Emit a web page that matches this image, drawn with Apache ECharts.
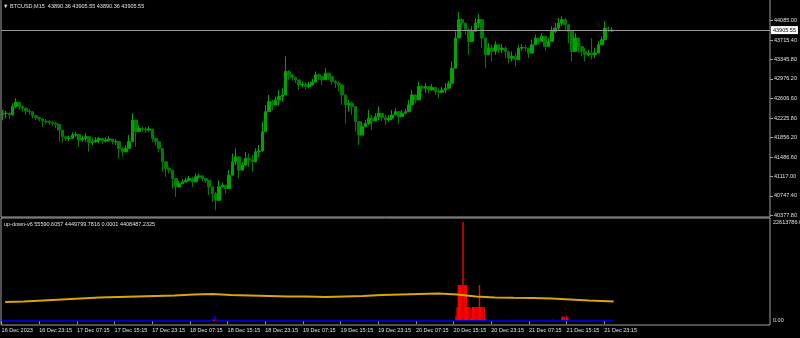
<!DOCTYPE html>
<html><head><meta charset="utf-8">
<script src="https://cdn.jsdelivr.net/npm/echarts@6/dist/echarts.min.js"></script>
<style>html,body{margin:0;padding:0;background:#000;}#c{width:800px;height:338px;}</style>
</head><body><div id="c"></div>
<script>
// ---- price candles (BTCUSD, resampled from the M15 picture) ----
const opens = [
42300,42320,42320,42289,42448,42531,42448,42416,42365,42352,
42276,42238,42212,42174,42161,42148,42129,42110,42002,41875,
41843,41843,41906,41919,41811,41843,41875,41766,41779,41811,
41843,41792,41811,41830,41779,41779,41652,41588,41652,41779,
42193,41970,42034,42021,42002,42021,41843,41779,41652,41397,
41269,41238,41078,40919,40983,41015,41046,41078,41015,41110,
41129,41078,41046,40919,40792,40664,40919,40951,40887,41142,
41397,41492,41238,41333,41460,41429,41397,41588,41601,41970,
42352,42543,42480,42575,42639,42671,43117,43053,43002,42957,
42862,42875,42830,42862,42913,43053,43021,42957,43085,43021,
42926,42894,42862,42671,42480,42512,42448,42161,41906,42066,
42129,42225,42174,42257,42320,42238,42193,42225,42289,42352,
42257,42320,42352,42480,42671,42575,42830,42798,42830,42766,
42811,42735,42722,42766,42798,42894,43180,43754,44104,44040,
43913,43690,43881,44040,44104,43754,43435,43563,43499,43626,
43531,43563,43499,43371,43403,43340,43563,43575,43563,43467,
43626,43754,43690,43786,43594,43690,43881,43945,44040,44104,
44009,43881,43499,43754,43594,43499,43435,43467,43435,43467,
43626,43722,43945,43890.36];
const closes = [
42320,42320,42289,42448,42531,42448,42416,42365,42352,42276,
42238,42212,42174,42161,42148,42129,42110,42002,41875,41843,
41843,41906,41919,41811,41843,41875,41766,41779,41811,41843,
41792,41811,41830,41779,41779,41652,41588,41652,41779,42193,
41970,42034,42021,42002,42021,41843,41779,41652,41397,41269,
41238,41078,40919,40983,41015,41046,41078,41015,41110,41129,
41078,41046,40919,40792,40664,40919,40951,40887,41142,41397,
41492,41238,41333,41460,41429,41397,41588,41601,41970,42352,
42543,42480,42575,42639,42671,43117,43053,43002,42957,42862,
42875,42830,42862,42913,43053,43021,42957,43085,43021,42926,
42894,42862,42671,42480,42512,42448,42161,41906,42066,42129,
42225,42174,42257,42320,42238,42193,42225,42289,42352,42257,
42320,42352,42480,42671,42575,42830,42798,42830,42766,42811,
42735,42722,42766,42798,42894,43180,43754,44104,44040,43913,
43690,43881,44040,44104,43754,43435,43563,43499,43626,43531,
43563,43499,43371,43403,43340,43563,43575,43563,43467,43626,
43754,43690,43786,43594,43690,43881,43945,44040,44104,44009,
43881,43499,43754,43594,43499,43435,43467,43435,43467,43626,
43722,43945,43932,43905.55];
const highs = [
42384,42365,42340,42512,42607,42512,42480,42429,42403,42320,
42289,42263,42225,42212,42199,42180,42161,42066,41938,41894,
41894,41957,41970,41906,41894,41938,41843,41843,41868,41875,
41843,41862,41881,41830,41830,41747,41683,41715,41906,42320,
42129,42097,42072,42059,42072,41906,41843,41715,41524,41333,
41301,41206,41015,41034,41066,41097,41129,41110,41174,41180,
41129,41097,41015,40887,40824,41046,41002,40951,41238,41556,
41652,41365,41397,41588,41556,41524,41652,41715,42161,42480,
42671,42575,42639,42766,42798,43403,43149,43066,43021,42926,
42926,42913,42926,42977,43117,43085,43021,43180,43085,42989,
42957,42938,42766,42607,42575,42543,42352,42034,42161,42193,
42384,42289,42320,42448,42301,42289,42289,42384,42416,42320,
42384,42403,42575,42766,42639,42926,42862,42894,42830,42875,
42798,42798,42830,42894,42938,43308,43881,44251,44136,44009,
43945,43977,44136,44212,44009,43690,43658,43626,43690,43594,
43639,43594,43467,43499,43467,43626,43639,43626,43563,43722,
43817,43754,43849,43658,43754,43977,44040,44136,44168,44136,
44009,43690,43849,43690,43575,43563,43531,43754,43563,43690,
43786,44072,43977,43958];
const lows = [
42193,42225,42212,42352,42416,42384,42352,42289,42289,42225,
42187,42161,42066,42110,42097,42078,42034,41779,41766,41792,
41792,41855,41868,41683,41779,41779,41588,41715,41754,41747,
41741,41760,41779,41728,41715,41460,41492,41588,41683,42034,
41683,41970,41970,41945,41970,41779,41715,41588,41206,41110,
41174,40887,40728,40919,40964,40996,41027,40919,41015,41078,
41027,40996,40760,40632,40473,40824,40900,40792,41046,41269,
41333,41078,41269,41333,41301,41206,41492,41492,41715,42193,
42352,42384,42512,42480,42543,42798,42957,42938,42894,42766,
42811,42766,42798,42849,42957,42957,42862,42989,42957,42862,
42798,42735,42480,42129,42352,42289,41970,41715,41970,42066,
42097,42002,42193,42193,42174,42097,42161,42193,42289,42129,
42257,42301,42352,42543,42512,42735,42735,42703,42703,42747,
42671,42607,42703,42703,42798,42926,43435,43881,43913,43817,
43435,43786,43881,43945,43563,43180,43435,43308,43435,43467,
43467,43371,43276,43308,43212,43467,43512,43499,43371,43531,
43658,43626,43703,43512,43626,43786,43849,43913,43977,43881,
43658,43308,43626,43467,43403,43308,43403,43340,43371,43531,
43658,43754,43868,43868];
const candleSlots = 231;   // bar slots across the pane (data + chart shift)
const bidPrice = 43905.55;
const priceTicks = [44085.00,43715.40,43345.80,42976.20,42606.60,42225.80,41856.20,41486.60,41117.00,40747.40,40377.80];

// ---- time axis (hours since 16 Dec 2023 00:00) ----
const timeTickHours = [15.25,23.25,31.25,39.25,47.25,55.25,63.25,71.25,79.25,87.25,95.25,103.25,111.25,119.25,127.25,135.25,143.25];
const timeTickLabels = ['16 Dec 2023','16 Dec 23:15','17 Dec 07:15','17 Dec 15:15','17 Dec 23:15','18 Dec 07:15','18 Dec 15:15','18 Dec 23:15','19 Dec 07:15','19 Dec 15:15','19 Dec 23:15','20 Dec 07:15','20 Dec 15:15','20 Dec 23:15','21 Dec 07:15','21 Dec 15:15','21 Dec 23:15'];

// ---- indicator up-down-v6 ----
const yellowHours = [16,20,24,28,32,36,40,44,48,52,56,60,64,68,72,76,80,84,88,92,96,100,104,108,112,116,120,124,128,132,136,140,144,145.25];
const yellowVals = [4334500,4448800,4677300,4905800,5134300,5362800,5477000,5591300,5705500,5819800,6048300,6162500,5934000,5819800,5705500,5591300,5591300,5477000,5591300,5705500,5934000,6048300,6162500,6276800,6048300,5591300,5362800,5294200,5248500,5134300,4905800,4677300,4517300,4449799.7816];
const redHours = [52.5,60.25,60.5,61.0,111.75,112.0,112.25,112.5,112.75,113.0,113.25,113.5,113.75,114.0,114.25,114.5,114.75,115.0,115.25,115.5,115.75,116.0,116.25,116.5,116.75,117.0,117.25,117.5,117.75,118.0,130.75,131.5,132.25,134.25,134.5,134.75,135.25,135.5,136.0];
const redVals = [250000,300000,350000,250000,1100000,3190000,8220000,8220000,8220000,8220000,22613786.6,8220000,8220000,8220000,3190000,3190000,3190000,700000,3190000,3190000,3190000,3190000,3190000,3190000,8220000,3190000,3190000,3190000,3190000,500000,250000,200000,300000,900000,1100000,900000,1100000,800000,300000];
const blueHours = [15.25,59.75,60.25,60.5,60.75,61.25,145.25];
const blueVals = [60000,60000,400000,1100000,300000,60000,55590.6057];
const indTicks = [-6846.9, 0, 22613786.6];
const indTickLabels = ['-6846.9','0.00','22613786.6'];

const headerText = '\u25BC BTCUSD,M15  43890.36 43905.55 43890.36 43905.55';
const indText = 'up-down-v6 55590.6057 4449799.7816 0.0001 4408487.2325';

const FONT = 'Liberation Sans';
const FS = 5.5;
const TXT = '#e0e0e0';
const FRAME = '#a0a0a0';

const slots = Array.from({length: candleSlots}, (_, i) => String(i));
const candleData = opens.map((o, i) => [o, closes[i], lows[i], highs[i]]);
const pairs = (xs, ys) => xs.map((x, i) => [x, ys[i]]);

const chart = echarts.init(document.getElementById('c'), null, {renderer: 'canvas'});
chart.setOption({
  backgroundColor: '#000000',
  animation: false,
  title: [
    {text: headerText, left: 3, top: 3, padding: 0, textStyle: {color: TXT, fontSize: FS, fontWeight: 'normal', fontFamily: FONT}},
    {text: indText, left: 4, top: 221, padding: 0, textStyle: {color: TXT, fontSize: FS, fontWeight: 'normal', fontFamily: FONT}}
  ],
  grid: [
    {left: 1, top: -1, width: 769, height: 218, show: true, borderColor: FRAME, borderWidth: 1, backgroundColor: 'transparent', containLabel: false, outerBoundsMode: 'none'},
    {left: 1, top: 218, width: 769, height: 107, show: true, borderColor: FRAME, borderWidth: 1, backgroundColor: 'transparent', containLabel: false, outerBoundsMode: 'none'}
  ],
  xAxis: [
    {type: 'category', gridIndex: 0, data: slots, boundaryGap: true, show: false},
    {type: 'value', gridIndex: 1, min: 15.12, max: 178.45,
      axisLine: {show: false}, splitLine: {show: false},
      axisTick: {show: true, customValues: timeTickHours, length: 3, lineStyle: {color: FRAME}},
      axisLabel: {show: true, customValues: timeTickHours, align: 'left', margin: 2, color: TXT, fontSize: FS, fontFamily: FONT,
        formatter: v => { const i = timeTickHours.findIndex(t => Math.abs(t - v) < 1e-6); return i >= 0 ? timeTickLabels[i] : ''; }}}
  ],
  yAxis: [
    {type: 'value', gridIndex: 0, position: 'right', min: 40345.2, max: 44498,
      axisLine: {show: false}, splitLine: {show: false},
      axisTick: {show: true, customValues: priceTicks, length: 3, lineStyle: {color: FRAME}},
      axisLabel: {show: true, customValues: priceTicks, margin: 4, color: TXT, fontSize: FS, fontFamily: FONT,
        formatter: v => v.toFixed(2)}},
    {type: 'value', gridIndex: 1, position: 'right', min: -920811.7, max: 23527751.4,
      axisLine: {show: false}, splitLine: {show: false},
      axisTick: {show: false},
      axisLabel: {show: true, customValues: indTicks, margin: 3, color: TXT, fontSize: FS, fontFamily: FONT, hideOverlap: false,
        formatter: v => { const i = indTicks.findIndex(t => Math.abs(t - v) < 1e-3); return i >= 0 ? indTickLabels[i] : ''; }}}
  ],
  series: [
    {type: 'candlestick', xAxisIndex: 0, yAxisIndex: 0, data: candleData, barWidth: 3.1,
      itemStyle: {color: '#00a400', color0: '#007c00', borderColor: '#00a400', borderColor0: '#007c00', borderWidth: 1},
      markLine: {silent: true, symbol: ['none', 'none'], animation: false,
        lineStyle: {color: '#9a9a9a', width: 1, type: 'solid'},
        label: {position: 'end', formatter: bidPrice.toFixed(2), color: '#000', backgroundColor: '#ffffff', fontSize: FS, fontFamily: FONT, padding: [1, 2], distance: 1},
        data: [{yAxis: bidPrice}]}},
    {type: 'line', xAxisIndex: 1, yAxisIndex: 1, data: pairs(yellowHours, yellowVals), showSymbol: false,
      lineStyle: {color: '#d9a800', width: 2}},
    {type: 'bar', xAxisIndex: 1, yAxisIndex: 1, data: pairs(redHours, redVals), barWidth: 1.4,
      itemStyle: {color: '#ff0000'}},
    {type: 'line', xAxisIndex: 1, yAxisIndex: 1, data: pairs(blueHours, blueVals), showSymbol: false,
      lineStyle: {color: '#0000cc', width: 1.5}}
  ]
});
</script></body></html>
